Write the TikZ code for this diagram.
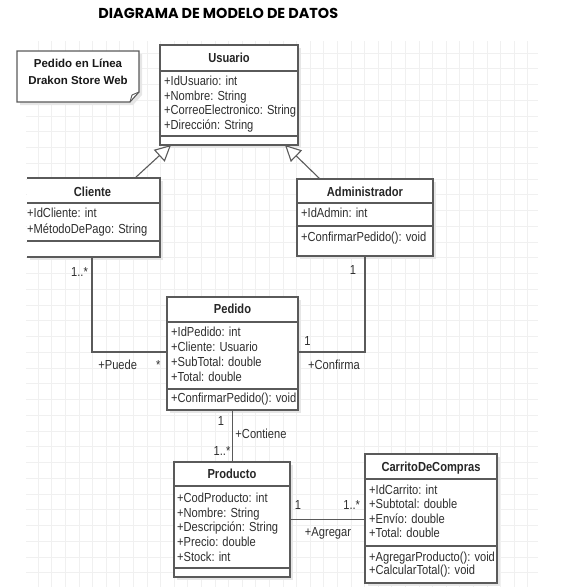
\documentclass[tikz,border=0pt]{standalone}
\usepackage{fontspec}
\setmainfont{Liberation Sans}
\newfontfamily\umlfont[FakeStretch=0.85]{Liberation Sans}
\newfontfamily\titlefont{Poppins}
\usetikzlibrary{arrows.meta,shadows}
\definecolor{linec}{HTML}{5A5A5A}
\definecolor{textc}{HTML}{2E2E2E}
\definecolor{gridc}{HTML}{F0F0F0}
\definecolor{shadowc}{HTML}{E6E6E6}
\begin{document}
\begin{tikzpicture}[x=1pt,y=-1pt,
  umlbox/.style={draw=linec, line width=1.25pt, fill=white, inner sep=0pt, outer sep=0pt, anchor=north west,
    drop shadow={shadow xshift=3pt, shadow yshift=-3pt, fill=shadowc, opacity=1}},
  sepline/.style={draw=linec, line width=1.25pt},
  attr/.style={anchor=west, inner sep=0pt, text height=9.3pt, text depth=0pt, font=\umlfont\fontsize{13.1}{14}\selectfont, text=textc},
  head/.style={anchor=center, inner sep=0pt, text height=9.3pt, text depth=0pt, font=\umlfont\bfseries\fontsize{13.1}{14}\selectfont, text=black!85},
  lbl/.style={attr, anchor=center},
  conn/.style={draw=linec, line width=1.1pt},
  gen/.style={conn, -{Triangle[length=16pt, width=16pt, fill=white]}},
  gridline/.style={draw=gridc, line width=0.6pt},
  notetext/.style={inner sep=0pt, text height=8.2pt, text depth=0pt, font=\bfseries\fontsize{11.5}{13}\selectfont, text=black!90},
]
\useasboundingbox (0,0) rectangle (577,587);
% grid
\foreach \k in {0,...,36} \draw[gridline] ({38+13.6*\k},41) -- ({38+13.6*\k},587);
\foreach \k in {0,...,33} \draw[gridline] (26,{53+15.75*\k}) -- (538,{53+15.75*\k});

% title
\node[anchor=base, inner sep=0pt, font=\titlefont\bfseries\fontsize{14.4}{16}\selectfont] (title) at (218.3,18.5) {DIAGRAMA DE MODELO DE DATOS};

% note
\fill[shadowc] (20,54) -- (142,54) -- (142,95) -- (133,105) -- (20,105) -- cycle;
\draw[draw=linec, line width=1.1pt, fill=white] (17,51) -- (139,51) -- (139,92) -- (130,102) -- (17,102) -- cycle;
\draw[draw=linec, line width=0.9pt] (139,92) -- (132,95) -- (130,102);
\node[notetext] (n1) at (78,63.3) {Pedido en Línea};
\node[notetext] (n2) at (78,80) {Drakon Store Web};

% Usuario
\node[umlbox, minimum width=138pt, minimum height=100pt] (usr) at (160,45) {};
\draw[sepline] ([yshift=-26pt]usr.north west) -- ([yshift=-26pt]usr.north east);
\draw[sepline] ([yshift=-91pt]usr.north west) -- ([yshift=-91pt]usr.north east);
\node[head] (usrh) at ([yshift=-12.8pt]usr.north) {Usuario};
\node[attr] (u1) at (164,81) {+IdUsuario: int};
\node[attr] (u2) at (164,95.5) {+Nombre: String};
\node[attr] (u3) at (164,110) {+CorreoElectronico: String};
\node[attr] (u4) at (164,124.5) {+Dirección: String};

% Cliente (left border cut off)
\node[umlbox, draw=none, minimum width=133pt, minimum height=79pt] (cli) at (27,178) {};
\draw[sepline] (cli.north west) -- (cli.north east) -- (cli.south east) -- (cli.south west);
\draw[sepline] ([yshift=-25pt]cli.north west) -- ([yshift=-25pt]cli.north east);
\draw[sepline] ([yshift=-63pt]cli.north west) -- ([yshift=-63pt]cli.north east);
\node[head] (clih) at (92.5,191.7) {Cliente};
\node[attr] (c1) at (27,213.3) {+IdCliente: int};
\node[attr] (c2) at (27,229) {+MétodoDePago: String};

% Administrador
\node[umlbox, minimum width=136pt, minimum height=77pt] (adm) at (297,179) {};
\draw[sepline] ([yshift=-24pt]adm.north west) -- ([yshift=-24pt]adm.north east);
\draw[sepline] ([yshift=-47pt]adm.north west) -- ([yshift=-47pt]adm.north east);
\node[head] (admh) at ([yshift=-12.7pt]adm.north) {Administrador};
\node[attr] (a1) at (301,213.3) {+IdAdmin: int};
\node[attr] (a2) at (301,236.7) {+ConfirmarPedido(): void};

% Pedido
\node[umlbox, minimum width=131pt, minimum height=113pt] (ped) at (167,297) {};
\draw[sepline] ([yshift=-25pt]ped.north west) -- ([yshift=-25pt]ped.north east);
\draw[sepline] ([yshift=-92pt]ped.north west) -- ([yshift=-92pt]ped.north east);
\node[head] (pedh) at ([yshift=-12.3pt]ped.north) {Pedido};
\node[attr] (p1) at (171,332.3) {+IdPedido: int};
\node[attr] (p2) at (171,347.3) {+Cliente: Usuario};
\node[attr] (p3) at (171,361.8) {+SubTotal: double};
\node[attr] (p4) at (171,377) {+Total: double};
\node[attr] (p5) at (171,398.3) {+ConfirmarPedido(): void};

% Producto
\node[umlbox, minimum width=116pt, minimum height=115pt] (prod) at (174,462) {};
\draw[sepline] ([yshift=-24pt]prod.north west) -- ([yshift=-24pt]prod.north east);
\draw[sepline] ([yshift=-106pt]prod.north west) -- ([yshift=-106pt]prod.north east);
\node[head] (prodh) at ([yshift=-12pt]prod.north) {Producto};
\node[attr] (r1) at (177,498) {+CodProducto: int};
\node[attr] (r2) at (177,512.5) {+Nombre: String};
\node[attr] (r3) at (177,527) {+Descripción: String};
\node[attr] (r4) at (177,542) {+Precio: double};
\node[attr] (r5) at (177,556.7) {+Stock: int};

% CarritoDeCompras
\node[umlbox, minimum width=132pt, minimum height=129pt] (car) at (365,454) {};
\draw[sepline] ([yshift=-25pt]car.north west) -- ([yshift=-25pt]car.north east);
\draw[sepline] ([yshift=-92pt]car.north west) -- ([yshift=-92pt]car.north east);
\node[head] (carh) at ([yshift=-12.7pt]car.north) {CarritoDeCompras};
\node[attr] (k1) at (369,490) {+IdCarrito: int};
\node[attr] (k2) at (369,504.3) {+Subtotal: double};
\node[attr] (k3) at (369,519) {+Envío: double};
\node[attr] (k4) at (369,533.3) {+Total: double};
\node[attr] (k5) at (369,557) {+AgregarProducto(): void};
\node[attr] (k6) at (369,570.3) {+CalcularTotal(): void};

% generalizations
\draw[gen] ([xshift=108pt]cli.north west) -- ([xshift=11pt]usr.south west);
\draw[gen] ([xshift=23pt]adm.north west) -- ([xshift=-13pt]usr.south east);

% associations
\coordinate (b1) at (92,352);
\coordinate (b2) at (365,352);
\draw[conn] (cli.south -| b1) -- (b1) -- (ped.west |- b1);
\draw[conn] (adm.south -| b2) -- (b2) -- (ped.east |- b2);
\draw[conn] (ped.south) -- (ped.south |- prod.north);
\draw[conn] (prod.east) -- (prod.east -| car.west);

% labels
\node[lbl] (l1) at (79.5,271.7) {1..*};
\node[lbl] (l2) at (117.7,364.5) {+Puede};
\node[lbl] (l3) at (158.3,365) {*};
\node[lbl] (l4) at (353,270) {1};
\node[lbl] (l5) at (307.5,341) {1};
\node[lbl] (l6) at (334,364.5) {+Confirma};
\node[lbl] (l7) at (221,421) {1};
\node[lbl] (l8) at (261,434.3) {+Contiene};
\node[lbl] (l9) at (222,451) {1..*};
\node[lbl] (l10) at (298,505) {1};
\node[lbl] (l11) at (351.7,505) {1..*};
\node[lbl] (l12) at (328,532) {+Agregar};
\end{tikzpicture}
\end{document}
